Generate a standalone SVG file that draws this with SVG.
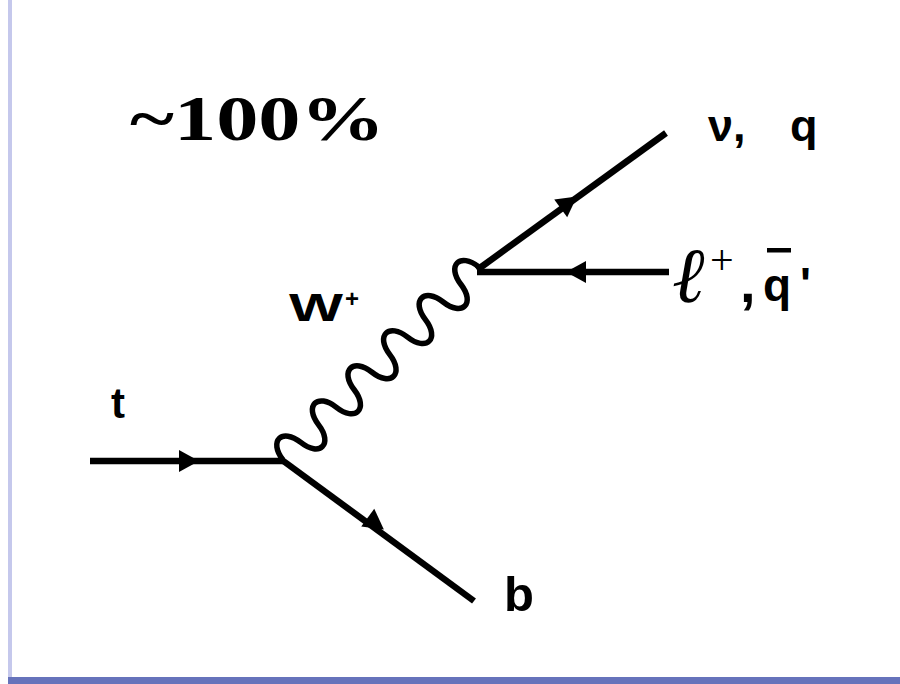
<svg xmlns="http://www.w3.org/2000/svg" width="900" height="684" viewBox="0 0 900 684">
<style>
.ln{stroke:#000;stroke-width:6.5;fill:none;stroke-linecap:butt}
.wv{stroke:#000;stroke-width:5.5;fill:none;stroke-linejoin:round}
.sans{font-family:"Liberation Sans",Arial,sans-serif;font-weight:bold;fill:#000}
.serif{font-family:"Liberation Serif","Times New Roman",serif;fill:#000}
</style>
<defs>
<path id="arr" d="M11,0 L-9,-11 L-9,11 Z" fill="#000"/>
</defs>
<rect x="0" y="0" width="900" height="684" fill="#fff"/>
<rect x="8" y="0" width="4" height="684" fill="#c5c8ec"/>
<rect x="8" y="677" width="892" height="7" fill="#6673bb"/>
<g id="connectors">
<line class="ln" x1="90" y1="461" x2="284" y2="461"/>
<line class="ln" x1="282" y1="460" x2="474" y2="601"/>
<line class="ln" x1="477" y1="270" x2="666" y2="133"/>
<line class="ln" x1="477" y1="272" x2="669" y2="272"/>
<path class="wv" transform="translate(283,460) rotate(-44.6)" d="M0,0 c3,-24 22,-24 25,0 s22,24 25,0 s22,-24 25,0 s22,24 25,0 s22,-24 25,0 s22,24 25,0 s22,-24 25,0 s22,24 25,0 s22,-24 25,0 s22,24 25,0 s22,-24 25,0"/>
<use href="#arr" transform="translate(188,461)"/>
<use href="#arr" transform="translate(375,523) rotate(36.3)"/>
<use href="#arr" transform="translate(568,203) rotate(-36)"/>
<use href="#arr" transform="translate(577,272) rotate(180)"/>
</g>
<g id="label-br"><text class="serif" x="130" y="140" font-size="64" font-weight="bold" textLength="255" lengthAdjust="spacingAndGlyphs">~100%</text></g>
<g id="label-nu"><text class="sans" x="708" y="141" font-size="45">ν,</text><text class="sans" x="790" y="141" font-size="45">q</text></g>
<g id="label-lep"><text class="serif" x="672" y="302" font-size="78" font-style="italic">ℓ</text><text class="serif" x="710" y="274" font-size="42">+</text><text class="sans" x="740" y="302" font-size="56">,</text><text class="sans" x="763" y="301" font-size="46">q</text><rect x="767" y="248" width="24" height="4.5" fill="#000"/><text class="sans" x="800" y="300" font-size="46">'</text></g>
<g id="label-w"><text class="sans" x="289" y="321" font-size="39" textLength="54" lengthAdjust="spacingAndGlyphs">W</text><text class="sans" x="345" y="307" font-size="24">+</text></g>
<g id="label-t"><text class="sans" x="111" y="418" font-size="42">t</text></g>
<g id="label-b"><text class="sans" x="504" y="611" font-size="49">b</text></g>
</svg>
